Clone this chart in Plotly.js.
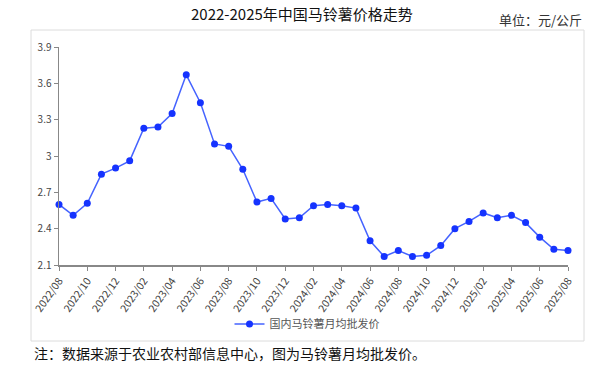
<!DOCTYPE html>
<html>
<head>
<meta charset="utf-8">
<script src="https://cdn.plot.ly/plotly-3.0.1.min.js"></script>
<style>html,body{margin:0;padding:0;background:#fff;}#chart{width:613px;height:365px;}</style>
</head>
<body>
<div id="chart"></div>
<script>
const months = ["2022/08","2022/09","2022/10","2022/11","2022/12","2023/01","2023/02","2023/03","2023/04","2023/05","2023/06","2023/07","2023/08","2023/09","2023/10","2023/11","2023/12","2024/01","2024/02","2024/03","2024/04","2024/05","2024/06","2024/07","2024/08","2024/09","2024/10","2024/11","2024/12","2025/01","2025/02","2025/03","2025/04","2025/05","2025/06","2025/07","2025/08"];
const prices = [2.60,2.51,2.61,2.85,2.90,2.96,3.23,3.24,3.35,3.67,3.44,3.10,3.08,2.89,2.62,2.65,2.48,2.49,2.59,2.60,2.59,2.57,2.30,2.17,2.22,2.17,2.18,2.26,2.40,2.46,2.53,2.49,2.51,2.45,2.33,2.23,2.22];
const xTickLabels = months.filter((m, i) => i % 2 === 0);
const yTicks = [2.1, 2.4, 2.7, 3.0, 3.3, 3.6, 3.9];
const seriesName = "国内马铃薯月均批发价";

const W = 613, H = 365, L = 59, R = 45, T = 47, B = 100;
const pw = W - L - R, ph = H - T - B;
const px = x => (x - L) / pw;
const py = y => (H - B - y) / ph;

const font = "'Noto Sans CJK SC', 'Noto Sans', sans-serif";

Plotly.newPlot('chart', [{
  x: months,
  y: prices,
  type: 'scatter',
  mode: 'lines+markers',
  name: seriesName,
  line: {color: '#4563ff', width: 1.5},
  marker: {color: '#1533ff', size: 7},
  cliponaxis: false
}], {
  width: W, height: H,
  margin: {l: L, r: R, t: T, b: B},
  paper_bgcolor: '#fff', plot_bgcolor: '#fff',
  font: {family: font, color: '#444'},
  showlegend: true,
  legend: {orientation: 'h', x: px(307), xanchor: 'center', y: py(324), yanchor: 'middle',
           font: {size: 11, color: '#555', family: font}, bgcolor: 'rgba(0,0,0,0)'},
  xaxis: {
    type: 'category', range: [0, months.length - 1],
    tickmode: 'array', tickvals: xTickLabels, ticktext: xTickLabels,
    tickangle: -55, ticks: 'outside', ticklen: 4, tickcolor: '#888', tickwidth: 1,
    showline: true, linecolor: '#888', linewidth: 1.5, showgrid: false, zeroline: false,
    tickfont: {size: 10.5, color: '#444', family: font}, fixedrange: true
  },
  yaxis: {
    range: [2.1, 3.9], tickmode: 'array', tickvals: yTicks,
    ticks: 'outside', ticklen: 4, tickcolor: '#888', tickwidth: 1,
    showline: true, linecolor: '#888', linewidth: 1.5, showgrid: false, zeroline: false,
    tickfont: {size: 10, color: '#444', family: font}, fixedrange: true
  },
  shapes: [{
    type: 'rect', xref: 'paper', yref: 'paper',
    x0: px(31), x1: px(584), y0: py(341), y1: py(30),
    line: {color: '#dcdcdc', width: 1}, fillcolor: 'rgba(0,0,0,0)', layer: 'below'
  }],
  annotations: [
    {text: '2022-2025年中国马铃薯价格走势', xref: 'paper', yref: 'paper', x: px(302), y: py(14),
     xanchor: 'center', yanchor: 'middle', showarrow: false, font: {size: 15, color: '#111', family: font}},
    {text: '单位：元/公斤', xref: 'paper', yref: 'paper', x: px(584), y: py(20),
     xanchor: 'right', yanchor: 'middle', showarrow: false, font: {size: 13, color: '#333', family: font}},
    {text: '注：数据来源于农业农村部信息中心，图为马铃薯月均批发价。', xref: 'paper', yref: 'paper', x: px(32), y: py(353),
     xanchor: 'left', yanchor: 'middle', showarrow: false, font: {size: 14, color: '#111', family: font}}
  ]
}, {displayModeBar: false, staticPlot: true});
</script>
</body>
</html>
